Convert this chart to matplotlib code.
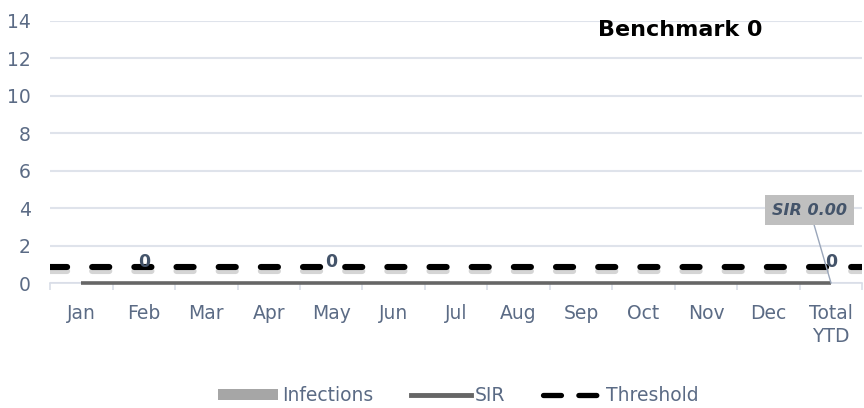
import numpy as np
import matplotlib
matplotlib.use("Agg")
import matplotlib.pyplot as plt
import matplotlib.patheffects as pe
from matplotlib.patches import Patch
from matplotlib.lines import Line2D

months = ["Jan", "Feb", "Mar", "Apr", "May", "Jun", "Jul", "Aug", "Sep",
          "Oct", "Nov", "Dec", "Total\nYTD"]
infections = [0, 0, 0, 0, 0, 0, 0, 0, 0, 0, 0, 0, 0]
sir = [0, 0, 0, 0, 0, 0, 0, 0, 0, 0, 0, 0, 0]
threshold = 0.85
labelled = [1, 4, 12]          # bars with a "0" data label
sir_ytd = 0.00
benchmark = 0

slate = "#5b6b85"
dark_slate = "#44546a"
plt.rcParams["font.family"] = ["DejaVu Sans"]

fig = plt.figure(figsize=(8.64, 4.08), dpi=100)
ax = fig.add_axes([0.058, 0.306, 0.940, 0.643])

x = np.arange(len(months))
ax.bar(x, infections, width=0.6, color="#a6a6a6")
ax.plot(x, sir, color="#666666", lw=2.6, solid_capstyle="butt", zorder=3, clip_on=False)

# threshold across the full plot width
tx = np.array([-0.5, len(months) - 0.5])
ax.plot(tx, [threshold, threshold], color="black", lw=4.4,
        dashes=(2.8, 4.1), dash_capstyle="round", zorder=4,
        path_effects=[pe.SimpleLineShadow(offset=(0, -3), shadow_color="#888888", alpha=0.35),
                      pe.Normal()])

for i in labelled:
    ax.text(x[i], infections[i] + 0.65, "0", ha="center", va="bottom",
            fontsize=12.5, fontweight="bold", color=dark_slate, zorder=5)

ax.annotate(f"SIR {sir_ytd:.2f}", xy=(x[-1], sir[-1]), xytext=(x[-1] - 0.34, 3.9),
            ha="center", va="center", fontsize=11.5, fontweight="bold",
            fontstyle="italic", color=dark_slate,
            bbox=dict(boxstyle="square,pad=0.45", fc="#bfbfbf", ec="none"),
            arrowprops=dict(arrowstyle="-", color="#9aa6ba", lw=1,
                            shrinkA=0, shrinkB=0), zorder=6)

ax.text(x[0] - 0.5 + 0.776 * len(months), 13.5, f"Benchmark {benchmark}",
        fontsize=16, fontweight="bold", color="black", ha="center", va="center")

ax.set_xlim(-0.5, len(months) - 0.5)
ax.set_ylim(0, 14)
ax.set_yticks(range(0, 15, 2))
ax.set_xticks(x)
ax.set_xticklabels(months, fontsize=13.5, color=slate, linespacing=1.25)
ax.set_xticks(np.arange(-0.5, len(months), 1), minor=True)
ax.tick_params(axis="x", which="major", length=0, pad=15)
ax.tick_params(axis="x", which="minor", length=5, color="#d9dee8", width=1.2)
ax.tick_params(axis="y", length=0, labelsize=13.5, labelcolor=slate, pad=14)

ax.grid(axis="y", color="#dfe3eb", lw=1.5)
ax.set_axisbelow(True)
for s in ["top", "right", "left"]:
    ax.spines[s].set_visible(False)
ax.spines["bottom"].set_color("#d9dee8")
ax.spines["bottom"].set_linewidth(1.2)

handles = [Patch(facecolor="#a6a6a6", edgecolor="none"),
           Line2D([], [], color="#666666", lw=3.5),
           Line2D([], [], color="black", lw=3.8, dashes=(3.4, 3.3), dash_capstyle="round")]
fig.legend(handles, ["Infections", "SIR", "Threshold"], loc="center",
           bbox_to_anchor=(0.531, 0.03), ncol=3, frameon=False, fontsize=13.5,
           labelcolor=slate, handlelength=3.2, handleheight=0.5,
           handletextpad=0.2, columnspacing=2.0)

fig.savefig("out.png", dpi=100)
